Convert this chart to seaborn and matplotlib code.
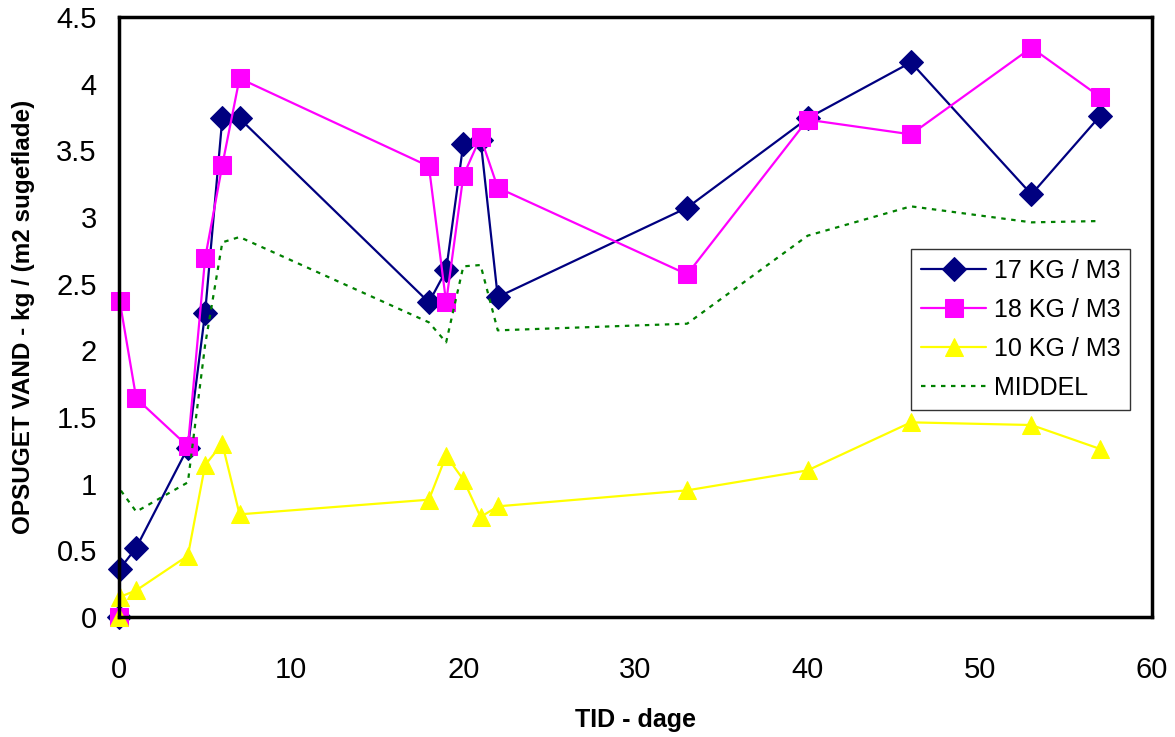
import numpy as np
import pandas as pd
import seaborn as sns
import matplotlib.pyplot as plt

# tid i dage
dage = [0, 0.04, 1, 4, 5, 6, 7, 18, 19, 20, 21, 22, 33, 40, 46, 53, 57]

# opsuget vand - kg / m2 sugeflade
kg17 = [0, 0.36, 0.52, 1.27, 2.28, 3.74, 3.74, 2.36, 2.60, 3.55, 3.58, 2.40,
        3.07, 3.74, 4.16, 3.17, 3.76]
kg18 = [0, 2.37, 1.64, 1.28, 2.69, 3.39, 4.04, 3.38, 2.36, 3.31, 3.60, 3.22,
        2.57, 3.73, 3.62, 4.27, 3.90]
kg10 = [0, 0.15, 0.20, 0.46, 1.14, 1.30, 0.77, 0.88, 1.21, 1.03, 0.75, 0.83,
        0.95, 1.10, 1.46, 1.44, 1.26]
middel = [0, 0.96, 0.79, 1.01, 2.04, 2.81, 2.85, 2.21, 2.06, 2.63, 2.64, 2.15,
          2.20, 2.86, 3.08, 2.96, 2.97]

xticks = [0, 10, 20, 30, 40, 50, 60]
yticks = [0, 0.5, 1, 1.5, 2, 2.5, 3, 3.5, 4, 4.5]
ylabels = ["0", "0.5", "1", "1.5", "2", "2.5", "3", "3.5", "4", "4.5"]

sns.set_style("white")
plt.rcParams['font.family'] = ['Liberation Sans', 'DejaVu Sans']
plt.rcParams['text.color'] = 'black'
plt.rcParams['axes.labelcolor'] = 'black'

fig = plt.figure(figsize=(11.75, 7.37), dpi=100)
ax = fig.add_axes([0.1013, 0.1628, 0.8791, 0.8141])

df = pd.DataFrame({"dage": dage, "kg17": kg17, "kg18": kg18,
                   "kg10": kg10, "middel": middel})

sns.lineplot(data=df, x="dage", y="kg17", ax=ax, color="#000080", lw=1.6,
             marker="D", markersize=12, markeredgecolor="#000080",
             label="17 KG / M3", clip_on=False)
sns.lineplot(data=df, x="dage", y="kg18", ax=ax, color="#FF00FF", lw=1.6,
             marker="s", markersize=13, markeredgecolor="#FF00FF",
             label="18 KG / M3", clip_on=False)
sns.lineplot(data=df, x="dage", y="kg10", ax=ax, color="#FFFF00", lw=1.6,
             marker="^", markersize=13, markeredgecolor="#FFFF00",
             label="10 KG / M3", clip_on=False)
sns.lineplot(data=df, x="dage", y="middel", ax=ax, color="#008000", lw=1.6,
             linestyle=(0, (2, 2.5)), label="MIDDEL", clip_on=False)

ax.set_xlim(0, 60)
ax.set_ylim(0, 4.5)
ax.set_xticks(xticks)
ax.set_yticks(yticks, labels=ylabels)
ax.tick_params(axis="both", direction="out", length=7, width=1.5,
               labelsize=21, colors="black")
ax.tick_params(axis="x", pad=21)
ax.tick_params(axis="y", pad=9)
for sp in ax.spines.values():
    sp.set_visible(True)
    sp.set_color("black")
    sp.set_linewidth(2.5)

ax.set_xlabel("TID - dage", fontsize=18, fontweight="bold", color="black")
ax.set_ylabel("OPSUGET VAND - kg / (m2 sugeflade)", fontsize=17.5,
              fontweight="bold", color="black")
ax.xaxis.set_label_coords(0.5, -0.152)
ax.yaxis.set_label_coords(-0.081, 0.5)

leg = ax.legend(loc="upper left", bbox_to_anchor=(0.767, 0.614), fontsize=18,
                frameon=True, fancybox=False, edgecolor="black",
                handlelength=2.6, handletextpad=0.3, labelspacing=0.6,
                borderpad=0.4, numpoints=1, borderaxespad=0)
leg.get_frame().set_linewidth(1)
for t in leg.get_texts():
    t.set_color("black")

fig.savefig("out.png", dpi=100)
